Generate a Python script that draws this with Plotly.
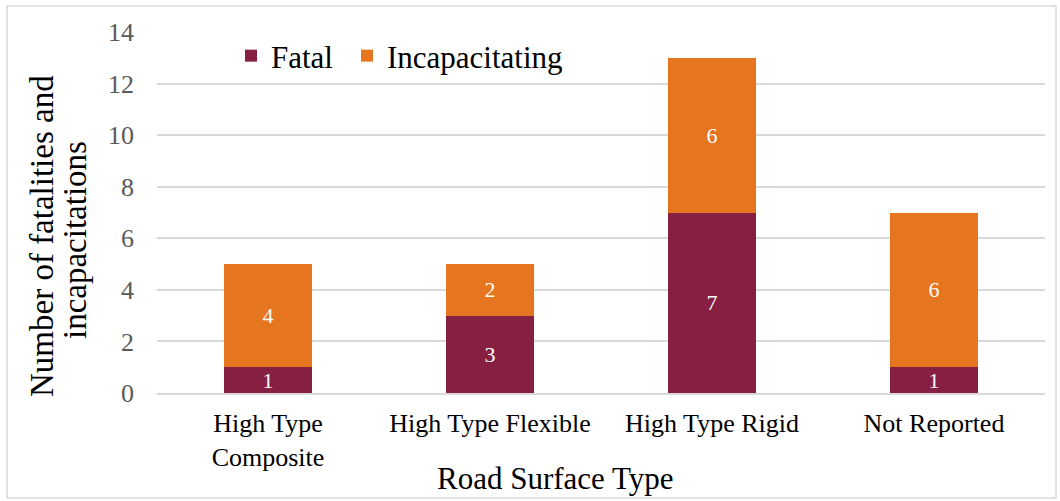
import plotly.graph_objects as go

categories = ["High Type<br>Composite", "High Type Flexible", "High Type Rigid", "Not Reported"]
fatal = [1, 3, 7, 1]
incapacitating = [4, 2, 6, 6]
y_ticks = [0, 2, 4, 6, 8, 10, 12, 14]
y_title_lines = ["Number of fatalities and", "incapacitations"]
x_title = "Road Surface Type"

FONT = "Liberation Serif"
MAROON = "#861F41"
ORANGE = "#E5751F"

fig = go.Figure()
fig.add_trace(go.Bar(
    x=categories, y=fatal, name="Fatal", marker=dict(color=MAROON, line=dict(width=0)),
    text=fatal, textposition="inside", insidetextanchor="middle", textangle=0,
    constraintext="none", textfont=dict(family=FONT, size=22, color="white"),
    legendwidth=71,
))
fig.add_trace(go.Bar(
    x=categories, y=incapacitating, name="Incapacitating", marker=dict(color=ORANGE, line=dict(width=0)),
    text=incapacitating, textposition="inside", insidetextanchor="middle", textangle=0,
    constraintext="none", textfont=dict(family=FONT, size=22, color="white"),
))

W, H = 1060, 501
L, R, T, B = 157, 15, 32, 108
pw, ph = W - L - R, H - T - B

def px(x):
    return (x - L) / pw

def py(y):
    return (H - B - y) / ph

annotations = [
    dict(text=y_title_lines[0], xref="paper", yref="paper", x=px(42), y=py(236),
         xanchor="center", yanchor="middle", textangle=-90, showarrow=False,
         font=dict(family=FONT, size=33, color="black")),
    dict(text=y_title_lines[1], xref="paper", yref="paper", x=px(75), y=py(240),
         xanchor="center", yanchor="middle", textangle=-90, showarrow=False,
         font=dict(family=FONT, size=33, color="black")),
    dict(text=x_title, xref="paper", yref="paper", x=px(555), y=py(478),
         xanchor="center", yanchor="middle", showarrow=False,
         font=dict(family=FONT, size=31, color="black")),
]

fig.update_layout(
    width=W, height=H,
    barmode="stack", bargap=0.6,
    margin=dict(l=L, r=R, t=T, b=B, pad=0),
    paper_bgcolor="white", plot_bgcolor="white",
    font=dict(family=FONT, color="black"),
    showlegend=True,
    legend=dict(
        orientation="h", x=px(231), y=py(56), xanchor="left", yanchor="middle",
        font=dict(family=FONT, size=31, color="black"), bgcolor="rgba(0,0,0,0)",
        itemwidth=30, traceorder="normal",
    ),
    xaxis=dict(
        automargin=False,
        showgrid=False, showline=True, linecolor="#D9D9D9", linewidth=1.5,
        ticks="", tickfont=dict(family=FONT, size=26, color="black"), ticklabelstandoff=6,
    ),
    yaxis=dict(
        automargin=False,
        range=[0, 14], tickvals=y_ticks, showgrid=True, gridcolor="#D9D9D9", gridwidth=1.5,
        zeroline=False, showline=False, ticks="",
        tickfont=dict(family=FONT, size=26, color="#595959"), ticklabelstandoff=22,
    ),
    annotations=annotations,
    shapes=[dict(type="rect", xref="paper", yref="paper",
                 x0=px(7), x1=px(1056), y0=py(498), y1=py(6),
                 line=dict(color="#D9D9D9", width=1.5), fillcolor="rgba(0,0,0,0)", layer="below")],
)

fig.write_html("out.html", config={"displayModeBar": False},
               post_script="document.body.style.margin='0';")
